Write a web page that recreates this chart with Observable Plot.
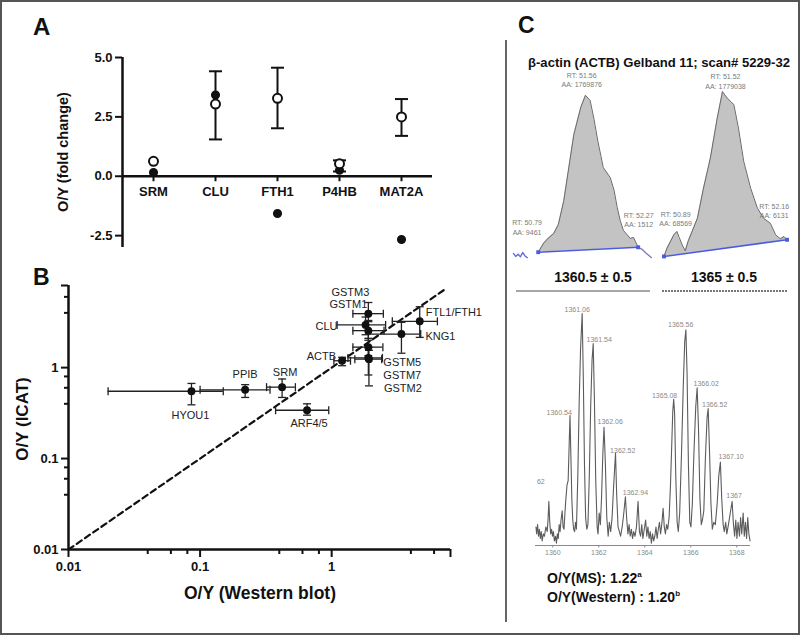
<!DOCTYPE html>
<html><head><meta charset="utf-8">
<script src="https://cdn.jsdelivr.net/npm/d3@7"></script>
<script src="https://cdn.jsdelivr.net/npm/@observablehq/plot@0.6"></script>
<style>
body{margin:0;background:#fff;font-family:"Liberation Sans",Arial,sans-serif;}
#fig{position:relative;width:800px;height:636px;overflow:hidden;background:#fff;}
#fig svg{position:absolute;overflow:visible;}
.border{position:absolute;left:0;top:0;width:796px;height:631px;border:2px solid #555;}
</style></head>
<body><div id="fig"><div class="border"></div></div>
<script>
// ---------- Panel A data ----------
const genesA = ["SRM","CLU","FTH1","P4HB","MAT2A"];
const openA = [0.63, 3.04, 3.28, 0.53, 2.50];
const openLowA = [null, 1.55, 2.02, 0.20, 1.70];
const openHighA = [null, 4.42, 4.57, 0.67, 3.25];
const filledA = [0.16, 3.42, -1.57, 0.25, -2.66];
const yTicksA = [-2.5, 0, 2.5, 5];

// ---------- Panel B data ----------
const proteinsB = ["HYOU1","PPIB","SRM","ARF4/5","ACTB","GSTM3","CLU","GSTM1","GSTM5","GSTM7","GSTM2","FTL1/FTH1","KNG1"];
const westernB   = [0.086, 0.22, 0.42, 0.65, 1.20, 1.90, 1.81, 1.90, 1.90, 1.90, 1.92, 4.67, 3.39];
const westernLoB = [0.020, 0.10, 0.32, 0.375, 1.04, 1.45, 1.10, 1.45, 1.45, 1.33, 1.50, 2.89, 1.90];
const westernHiB = [0.150, 0.34, 0.53, 0.95, 1.39, 2.47, 2.57, 2.50, 2.45, 2.43, 2.40, 6.36, 4.75];
const icatB   = [0.55, 0.57, 0.61, 0.34, 1.19, 3.92, 2.95, 2.55, 1.68, 1.28, 1.24, 3.23, 2.34];
const icatLoB = [0.39, 0.47, 0.47, 0.30, 1.05, 3.20, 2.30, 2.00, 1.35, 0.83, 0.63, 2.15, 1.44];
const icatHiB = [0.67, 0.65, 0.75, 0.40, 1.30, 5.20, 3.60, 3.30, 2.10, 1.70, 1.55, 4.67, 3.15];
const identityB = [0.01, 7.5];
const majorTicksB = [0.01, 0.1, 1];
const minorTicksB = [0.04, 0.06, 0.08, 0.4, 0.6, 0.8, 4, 6];

// ---------- Panel C data ----------
const leftCurve = [[50.96,3.7],[51.03,9],[51.09,12],[51.16,14.7],[51.22,20],[51.29,34],[51.35,52],[51.42,73],[51.51,89],[51.57,96],[51.63,93],[51.68,82],[51.73,69],[51.80,53.5],[51.89,47.6],[51.94,40],[51.98,30],[52.02,22],[52.06,16.5],[52.15,11.8],[52.19,12.4],[52.25,6.6]];
const leftBase = [[50.96,3.7],[52.25,6.6]];
const leftNoise = [[50.64,3],[50.67,1.2],[50.70,2.6],[50.73,1.0],[50.76,3.5],[50.79,1.5],[50.82,0.5]];
const leftTail = [[52.25,6.6],[52.30,5.4],[52.35,3.2],[52.42,0.6]];
const leftRT = [50.79, 51.56, 52.27];
const leftAA = ["9461","1769876","1512"];

const rightCurve = [[50.75,1.8],[50.79,6.7],[50.84,11],[50.88,14.5],[50.92,16.5],[50.95,13],[50.99,8.6],[51.03,5.1],[51.07,11],[51.12,16.5],[51.19,24.3],[51.27,42],[51.36,59.6],[51.45,83],[51.52,98.8],[51.58,95],[51.63,92.9],[51.67,91],[51.73,77.3],[51.80,57.6],[51.89,42],[51.98,30.2],[52.06,24.3],[52.15,21.3],[52.22,14.5],[52.28,12.2],[52.33,13.5],[52.37,11.6]];
const rightBase = [[50.75,1.8],[52.37,11.6]];
const rightRT = [50.89, 51.52, 52.16];
const rightAA = ["68569","1779038","6131"];

const spectrum = [
[1359.05,8],[1359.08,5],[1359.12,9],[1359.16,4],[1359.20,7],[1359.24,3],[1359.28,6],[1359.32,2],[1359.37,5],[1359.42,4],[1359.48,8],[1359.54,6],[1359.58,12],[1359.61,19],[1359.65,10],[1359.69,5],[1359.73,7],[1359.77,4],[1359.81,6],[1359.85,2],[1359.90,4],[1359.94,1],[1359.98,5],[1360.02,3],[1360.06,9],[1360.10,6],[1360.14,11],[1360.19,15],[1360.23,8],[1360.27,7],[1360.31,14],[1360.35,20],[1360.40,26],[1360.45,28],[1360.49,42],[1360.53,56],[1360.57,38],[1360.61,20],[1360.65,11],[1360.69,7],[1360.73,6],[1360.77,10],[1360.81,7],[1360.87,30],[1360.93,62],[1360.99,85],[1361.06,100],[1361.11,72],[1361.16,35],[1361.21,12],[1361.26,7],[1361.31,9],[1361.37,30],[1361.43,60],[1361.49,80],[1361.54,87],[1361.59,64],[1361.65,28],[1361.71,8],[1361.75,5],[1361.80,14],[1361.85,9],[1361.90,20],[1361.96,40],[1362.01,51],[1362.07,35],[1362.13,12],[1362.19,4],[1362.24,10],[1362.30,6],[1362.36,12],[1362.42,24],[1362.47,33],[1362.51,40],[1362.56,22],[1362.62,8],[1362.68,6],[1362.73,4],[1362.80,8],[1362.87,14],[1362.94,21],[1363.00,11],[1363.05,5],[1363.10,9],[1363.15,4],[1363.20,7],[1363.25,3],[1363.30,6],[1363.36,4],[1363.42,8],[1363.49,19],[1363.55,6],[1363.60,4],[1363.65,9],[1363.70,3],[1363.76,7],[1363.82,11],[1363.87,4],[1363.92,8],[1363.97,3],[1364.02,6],[1364.07,1],[1364.12,5],[1364.17,2],[1364.22,4],[1364.27,8],[1364.32,3],[1364.37,7],[1364.42,10],[1364.47,5],[1364.52,9],[1364.58,16],[1364.63,8],[1364.68,5],[1364.73,9],[1364.78,7],[1364.84,12],[1364.90,26],[1364.96,45],[1365.00,58],[1365.04,63],[1365.08,57],[1365.13,30],[1365.19,10],[1365.24,6],[1365.30,14],[1365.38,40],[1365.46,70],[1365.52,88],[1365.57,93],[1365.62,75],[1365.68,35],[1365.74,10],[1365.79,8],[1365.85,18],[1365.92,40],[1366.00,60],[1366.06,68],[1366.12,50],[1366.18,20],[1366.24,9],[1366.29,11],[1366.35,15],[1366.42,38],[1366.49,55],[1366.54,59],[1366.60,40],[1366.66,18],[1366.72,7],[1366.78,10],[1366.85,9],[1366.93,18],[1367.00,30],[1367.07,36],[1367.13,20],[1367.19,9],[1367.24,6],[1367.30,10],[1367.35,5],[1367.42,9],[1367.50,14],[1367.58,19],[1367.64,9],[1367.69,4],[1367.74,11],[1367.79,3],[1367.84,10],[1367.90,4],[1367.95,12],[1368.00,5],[1368.06,14],[1368.11,4],[1368.16,10],[1368.21,3],[1368.26,12],[1368.31,5],[1368.36,2]];
const peakMz  = [1360.54, 1361.06, 1361.54, 1362.06, 1362.52, 1362.94, 1365.08, 1365.56, 1366.02, 1366.52, 1367.10];
const peakInt = [55.7, 100, 87, 51, 39.6, 20.9, 62.6, 92.8, 67.6, 59, 36];
const cutLabels = ["62", "1367"];
const cutMz = [1359.61, 1367.58];
const cutInt = [18.7, 19.4];
const specTicks = [1360, 1362, 1364, 1366, 1368];

// ---------- helpers ----------
const fig = document.getElementById("fig");
function place(svg, left, top){ svg.style.left = left+"px"; svg.style.top = top+"px"; fig.appendChild(svg); }
const symH = {draw(ctx, size){const r=Math.sqrt(size/Math.PI); ctx.moveTo(-r,0); ctx.lineTo(r,0);}};
const symV = {draw(ctx, size){const r=Math.sqrt(size/Math.PI); ctx.moveTo(0,-r); ctx.lineTo(0,r);}};
const symDown = {draw(ctx, size){const r=Math.sqrt(size/Math.PI); ctx.moveTo(0,0); ctx.lineTo(0,r);}};
const FONT = "Liberation Sans, Arial, sans-serif";
const INK = "#111";

// ---------- Panel A ----------
const iA = genesA.map((_, i) => i);
const iErrA = iA.filter(i => openLowA[i] != null);
const plotA = Plot.plot({
  width: 480, height: 250,
  marginLeft: 122, marginRight: 48, marginTop: 57, marginBottom: 3,
  x: {type: "linear", domain: [-0.5, 4.5], axis: null},
  y: {domain: [-3, 5]},
  style: {background: "none", fontFamily: FONT, fontWeight: "bold", fontSize: "13px", color: INK},
  marks: [
    Plot.axisY({ticks: yTicksA, tickFormat: d => d.toFixed(1), tickSize: 7, tickPadding: 3, strokeWidth: 2, fontSize: 13, label: null}),
    Plot.ruleX([-0.5], {y1: -3, y2: 5, stroke: INK, strokeWidth: 2.5}),
    Plot.ruleY([0], {x1: -0.5, x2: 4.5, stroke: INK, strokeWidth: 2.5}),
    Plot.dot(iA, {x: i => i, y: 0, symbol: symDown, r: 5, stroke: INK, strokeWidth: 2, fill: "none"}),
    Plot.text(iA, {x: i => i, y: 0, dy: 16, text: i => genesA[i], fontSize: 13, fontWeight: "bold", fill: INK}),
    Plot.ruleX(iErrA, {x: i => i, y1: i => openLowA[i], y2: i => openHighA[i], stroke: INK, strokeWidth: 2}),
    Plot.dot(iErrA, {x: i => i, y: i => openLowA[i], symbol: symH, r: 6.5, stroke: INK, strokeWidth: 2, fill: "none"}),
    Plot.dot(iErrA, {x: i => i, y: i => openHighA[i], symbol: symH, r: 6.5, stroke: INK, strokeWidth: 2, fill: "none"}),
    Plot.dot(iA, {x: i => i, y: i => filledA[i], r: 3.8, fill: INK, stroke: INK}),
    Plot.dot(iA, {x: i => i, y: i => openA[i], r: 4.5, fill: "white", stroke: INK, strokeWidth: 2})
  ]
});
place(plotA, 0, 0);

// ---------- Panel B ----------
const iB = proteinsB.map((_, i) => i);
const labelCfgB = {
  "HYOU1": {dx: -1, dy: 24, anchor: "middle"},
  "PPIB": {dx: 0, dy: -15, anchor: "middle"},
  "SRM": {dx: 3, dy: -15, anchor: "middle"},
  "ARF4/5": {dx: 2, dy: 13, anchor: "middle"},
  "ACTB": {dx: -6, dy: -4, anchor: "end"},
  "GSTM3": {dx: -18, dy: -21, anchor: "middle"},
  "GSTM1": {dx: -20, dy: -26, anchor: "middle"},
  "CLU": {dx: -28, dy: 2, anchor: "end"},
  "FTL1/FTH1": {dx: 6, dy: -9, anchor: "start"},
  "KNG1": {dx: 24, dy: 2, anchor: "start"},
  "GSTM5": {dx: 15, dy: 15, anchor: "start"},
  "GSTM7": {dx: 15, dy: 18, anchor: "start"},
  "GSTM2": {dx: 15, dy: 29, anchor: "start"}
};
const plotB = Plot.plot({
  width: 480, height: 386,
  marginLeft: 68, marginRight: 30, marginTop: 35, marginBottom: 87,
  x: {type: "log", domain: [0.01, 8]},
  y: {type: "log", domain: [0.01, 8]},
  style: {background: "none", fontFamily: FONT, fontWeight: "bold", fontSize: "13px", color: INK},
  marks: [
    Plot.axisX(majorTicksB, {tickSize: 8, tickPadding: 4, tickFormat: d => String(d), strokeWidth: 2, fontSize: 13, label: null}),
    Plot.axisX([8], {tickSize: 8, tickFormat: () => "", strokeWidth: 2, label: null}),
    Plot.axisX(minorTicksB, {tickSize: 5, tickFormat: () => "", strokeWidth: 2, label: null}),
    Plot.axisY(majorTicksB, {tickSize: 7, tickPadding: 3, tickFormat: d => String(d), strokeWidth: 2, fontSize: 13, label: null}),
    Plot.axisY([8], {tickSize: 7, tickFormat: () => "", strokeWidth: 2, label: null}),
    Plot.axisY(minorTicksB, {tickSize: 4, tickFormat: () => "", strokeWidth: 2, label: null}),
    Plot.ruleX([0.01], {y1: 0.01, y2: 8, stroke: INK, strokeWidth: 2.5}),
    Plot.ruleY([0.01], {x1: 0.01, x2: 8, stroke: INK, strokeWidth: 2.5}),
    Plot.line(identityB, {x: d => d, y: d => d, stroke: INK, strokeWidth: 2.2, strokeDasharray: "6,4"}),
    Plot.ruleY(iB, {y: i => icatB[i], x1: i => westernLoB[i], x2: i => westernHiB[i], stroke: "#222", strokeWidth: 1.3}),
    Plot.ruleX(iB, {x: i => westernB[i], y1: i => icatLoB[i], y2: i => icatHiB[i], stroke: "#222", strokeWidth: 1.3}),
    Plot.dot(iB, {x: i => westernLoB[i], y: i => icatB[i], symbol: symV, r: 4, stroke: "#222", strokeWidth: 1.3, fill: "none"}),
    Plot.dot(iB, {x: i => westernHiB[i], y: i => icatB[i], symbol: symV, r: 4, stroke: "#222", strokeWidth: 1.3, fill: "none"}),
    Plot.dot(iB, {x: i => westernB[i], y: i => icatLoB[i], symbol: symH, r: 4, stroke: "#222", strokeWidth: 1.3, fill: "none"}),
    Plot.dot(iB, {x: i => westernB[i], y: i => icatHiB[i], symbol: symH, r: 4, stroke: "#222", strokeWidth: 1.3, fill: "none"}),
    Plot.dot(iB, {x: i => westernB[i], y: i => icatB[i], r: 3.2, fill: INK, stroke: INK}),
    ...iB.map(i => {
      const c = labelCfgB[proteinsB[i]];
      return Plot.text([i], {x: () => westernB[i], y: () => icatB[i], text: () => proteinsB[i], dx: c.dx, dy: c.dy, textAnchor: c.anchor, fontSize: 11, fontWeight: "normal", fill: "#222"});
    })
  ]
});
place(plotB, 0, 250);

// ---------- Panel C chromatograms ----------
function baseAt(base, x){ const [a, b] = base; return a[1] + (x - a[0]) * (b[1] - a[1]) / (b[0] - a[0]); }
function chrom(curve, base, extra, rts, aas, dom, w, ml, mr, lab){
  return Plot.plot({
    width: w, height: 205, marginLeft: ml, marginRight: mr, marginTop: 28, marginBottom: 7,
    x: {domain: dom, axis: null}, y: {domain: [0, 100], axis: null},
    style: {background: "none", fontFamily: FONT},
    marks: [
      Plot.areaY(curve, {x: d => d[0], y1: d => baseAt(base, d[0]), y2: d => d[1], fill: "#c3c3c3", curve: "linear"}),
      Plot.line(curve, {x: d => d[0], y: d => d[1], stroke: "#6a6a6a", strokeWidth: 1}),
      ...extra.map(e => Plot.line(e.data, {x: d => d[0], y: d => d[1], stroke: e.color, strokeWidth: 1.3})),
      Plot.line(base, {x: d => d[0], y: d => d[1], stroke: "#4b5be0", strokeWidth: 1.6}),
      Plot.dot(base, {x: d => d[0], y: d => d[1], symbol: "square", r: 2.2, fill: "#4b5be0"}),
      ...rts.map((rt, k) => Plot.text([k], {x: () => rt, y: () => lab[k].y, dx: lab[k].dx, text: () => `RT: ${rt.toFixed(2)}\nAA: ${aas[k]}`, lineAnchor: "bottom", lineHeight: 1.35, fontSize: 7, fill: "#7a7a7a"}))
    ]
  });
}
const chromL = chrom(leftCurve, leftBase,
  [{data: leftNoise, color: "#5a64d8"}, {data: leftTail, color: "#7a7ab8"}],
  leftRT, leftAA, [50.628, 52.474], 148, 2, 3,
  [{y: 14, dx: 2}, {y: 100.6, dx: -3}, {y: 18.5, dx: -1}]);
place(chromL, 510, 60);
const chromR = chrom(rightCurve, rightBase, [], rightRT, rightAA, [50.704, 52.415], 140, 5, 5,
  [{y: 19.7, dx: 1}, {y: 100.5, dx: 3}, {y: 24.4, dx: 3}]);
place(chromR, 655, 61);

// ---------- Panel C spectrum ----------
const plotS = Plot.plot({
  width: 250, height: 270, marginLeft: 15, marginRight: 20, marginTop: 18, marginBottom: 20,
  x: {domain: [1359.03, 1368.38]},
  y: {domain: [0, 100], axis: null},
  style: {background: "none", fontFamily: FONT, color: "#8a8a8a"},
  marks: [
    Plot.axisX(specTicks, {tickSize: 2.5, tickPadding: 2, dx: -5, tickFormat: d => String(d), fontSize: 7, fill: "#8a8a8a", stroke: "#8a8a8a", label: null}),
    Plot.ruleY([0], {stroke: "#8a8a8a", strokeWidth: 1.2}),
    Plot.line(spectrum, {x: d => d[0], y: d => d[1], stroke: "#5c5c5c", strokeWidth: 1.1}),
    ...peakMz.map((mz, k) => Plot.text([k], {x: () => mz, y: () => peakInt[k],
        dx: [-11, -5, 6, 5, 7, 10, -10, -5, 10, 7, 10][k], dy: [-4, -4, -4, -5, -3, -4, -5, -5, -5, -4, -5][k],
        text: () => mz.toFixed(2), fontSize: 7, fill: "#8a8a8a"})),
    ...cutLabels.map((t, k) => Plot.text([k], {x: () => cutMz[k], y: () => cutInt[k], dx: [-8, 2][k], dy: [-20, -5][k], text: () => t, fontSize: 7, fill: "#8a8a8a"}))
  ]
});
place(plotS, 520, 295);

// ---------- static text overlay ----------
const ns = "http://www.w3.org/2000/svg";
const ov = document.createElementNS(ns, "svg");
ov.setAttribute("width", 800); ov.setAttribute("height", 636);
ov.style.left = "0px"; ov.style.top = "0px"; ov.style.pointerEvents = "none";
ov.innerHTML = `
<g font-family="${FONT}" font-weight="bold" fill="#111">
<text x="33" y="35" font-size="24">A</text>
<text x="33" y="285" font-size="23">B</text>
<text x="518" y="33" font-size="23">C</text>
<text transform="translate(68,152) rotate(-90)" text-anchor="middle" font-size="14.5">O/Y (fold change)</text>
<text transform="translate(28,419) rotate(-90)" text-anchor="middle" font-size="17">O/Y (ICAT)</text>
<text x="260" y="599" text-anchor="middle" font-size="17.5">O/Y (Western blot)</text>
<text x="528" y="67" font-size="12.5" textLength="262" lengthAdjust="spacingAndGlyphs">β-actin (ACTB) Gelband 11;  scan# 5229-32</text>
<text x="593" y="282" text-anchor="middle" font-size="14">1360.5 ± 0.5</text>
<text x="724" y="282" text-anchor="middle" font-size="14">1365 ± 0.5</text>
<text x="547" y="583" font-size="14">O/Y(MS): 1.22<tspan font-size="8" dy="-6">a</tspan></text>
<text x="547" y="602" font-size="14">O/Y(Western) : 1.20<tspan font-size="8" dy="-6">b</tspan></text>
</g>
<line x1="516" y1="291" x2="650" y2="291" stroke="#888" stroke-width="1.5"/>
<line x1="662" y1="291" x2="787" y2="291" stroke="#777" stroke-width="1.8" stroke-dasharray="2,1"/>
<line x1="506" y1="40" x2="506" y2="622" stroke="#333" stroke-width="1.5"/>`;
fig.appendChild(ov);
</script>
</body></html>
